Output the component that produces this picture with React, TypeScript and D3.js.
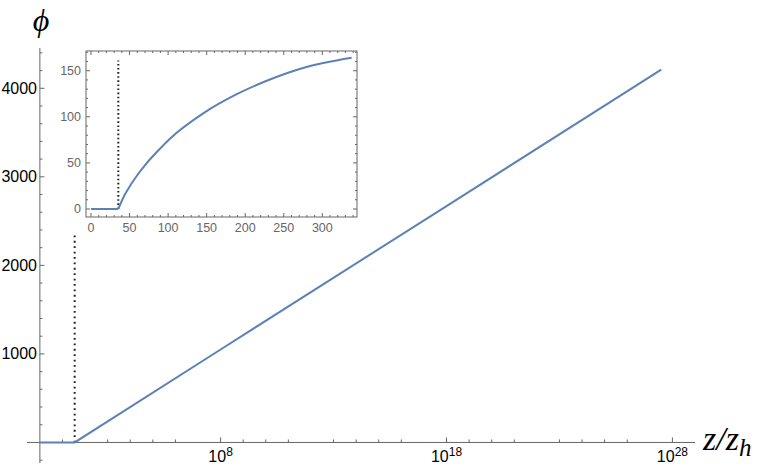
import React from "react";
import * as d3 from "d3";

// Main chart data (z/z_h on log axis, phi)
const mainZ = [1, 34.7, 1e8, 1e18, 3.2e27];
const mainPhi = [0, 0, 1050, 2670, 4210];
const threshZ = 34.7;
const mainDotTop = 2370;

// Inset data
const insetZ = [35.4, 42, 48, 59, 72, 85, 102, 146, 189, 232, 275, 338];
const insetPhi = [0, 12.5, 21.5, 35.5, 49.5, 61.5, 76, 104, 124.5, 140.5, 153, 164];
const insetFlatZ = [0, 35.4];
const insetFlatPhi = [0, 0];
const insetDotTop = 161;

// Ticks
const xMajorExp = [8, 18, 28];
const xMinorExp = [1, 3, 4, 5, 6, 9, 10, 11, 13, 14, 15, 16, 19, 20, 21, 23, 24, 25, 26];
const yMajor = [1000, 2000, 3000, 4000];
const yMinor = [-200, 200, 400, 600, 800, 1200, 1400, 1600, 1800, 2200, 2400, 2600, 2800, 3200, 3400, 3600, 3800, 4200, 4400];
const insetXMajor = [0, 50, 100, 150, 200, 250, 300];
const insetYMajor = [0, 50, 100, 150];

const BLUE = "#5E81B5";
const AXIS = "#666";
const SANS = "'Liberation Sans', Arial, sans-serif";
const SERIF = "'Liberation Serif', 'Times New Roman', serif";

export default function App() {
  const x = d3.scaleLog().domain([Math.pow(10, -0.57), Math.pow(10, 29.0)]).range([27, 695]);
  const y = d3.scaleLinear().domain([-232, 4455]).range([463, 48]);

  const ix = d3.scaleLinear().domain([-6.5, 345]).range([86, 357]);
  const iy = d3.scaleLinear().domain([-8.7, 171.4]).range([217, 51]);

  const mainLine = d3.line<number>().x((_, i) => x(mainZ[i])).y((d) => y(d));
  const insetCurve = d3
    .line<number>()
    .x((_, i) => ix(insetZ[i]))
    .y((d) => iy(d))
    .curve(d3.curveMonotoneX);
  const insetFlat = d3.line<number>().x((_, i) => ix(insetFlatZ[i])).y((d) => iy(d));

  const insetXMinor = d3.range(0, 341, 10).filter((v) => v % 50 !== 0);
  const insetYMinor = d3.range(0, 171, 10).filter((v) => v % 50 !== 0);

  const x0 = x(1);
  const y0 = y(0);

  const left = 86, right = 357, top = 51, bottom = 217;

  return (
    <svg
      width={768}
      height={468}
      style={{ position: "absolute", left: 0, top: 0, background: "#fff", fontFamily: SANS }}
    >
      <rect x={0} y={0} width={768} height={468} fill="#fff" />
      {/* main axes */}
      <line x1={27} x2={695} y1={y0} y2={y0} stroke={AXIS} strokeWidth={1} />
      <line x1={x0} x2={x0} y1={48} y2={463} stroke={AXIS} strokeWidth={1} />
      {xMajorExp.map((e) => (
        <line key={"xM" + e} x1={x(Math.pow(10, e))} x2={x(Math.pow(10, e))} y1={y0} y2={y0 - 5} stroke={AXIS} />
      ))}
      {xMinorExp.map((e) => (
        <line key={"xm" + e} x1={x(Math.pow(10, e))} x2={x(Math.pow(10, e))} y1={y0} y2={y0 - 3} stroke={AXIS} />
      ))}
      {xMajorExp.map((e) => (
        <text key={"xl" + e} x={x(Math.pow(10, e))} y={462} textAnchor="middle" style={{ fontFamily: SANS, fontSize: 16 }} fill="#000">
          10<tspan style={{ fontSize: 12 }} dy={-6.5}>{e}</tspan>
        </text>
      ))}
      {yMajor.map((v) => (
        <line key={"yM" + v} x1={x0} x2={x0 + 4.5} y1={y(v)} y2={y(v)} stroke={AXIS} />
      ))}
      {yMinor.map((v) => (
        <line key={"ym" + v} x1={x0} x2={x0 + 2.5} y1={y(v)} y2={y(v)} stroke={AXIS} />
      ))}
      {yMajor.map((v) => (
        <text key={"yl" + v} x={37} y={y(v) + 5.5} textAnchor="end" style={{ fontFamily: SANS, fontSize: 16 }} fill="#000">
          {v}
        </text>
      ))}

      {/* main dotted threshold */}
      <line
        x1={x(threshZ)}
        x2={x(threshZ)}
        y1={y(0)}
        y2={y(mainDotTop)}
        stroke="#222"
        strokeWidth={2}
        strokeDasharray="1.8,3.6"
      />
      {/* main curve */}
      <path d={mainLine(mainPhi) || ""} fill="none" stroke={BLUE} strokeWidth={2} />

      {/* axis labels */}
      <text x={41} y={31} textAnchor="middle" style={{ fontFamily: SERIF, fontSize: 32, fontStyle: "italic" }}>
        ϕ
      </text>
      <text x={703} y={450} style={{ fontFamily: SERIF, fontSize: 34, fontStyle: "italic" }}>
        z/z<tspan style={{ fontSize: 25 }} dy={6}>h</tspan>
      </text>

      {/* inset */}
      <rect x={50} y={44} width={312} height={190} fill="#fff" />
      <line
        x1={ix(35.4)}
        x2={ix(35.4)}
        y1={iy(0)}
        y2={iy(insetDotTop)}
        stroke="#222"
        strokeWidth={2}
        strokeDasharray="1.6,2.5"
      />
      <path d={insetFlat(insetFlatPhi) || ""} fill="none" stroke={BLUE} strokeWidth={2} />
      <path d={insetCurve(insetPhi) || ""} fill="none" stroke={BLUE} strokeWidth={2} />
      <rect x={left} y={top} width={right - left} height={bottom - top} fill="none" stroke={AXIS} strokeWidth={1} />
      {insetXMajor.map((v) => (
        <g key={"ixM" + v}>
          <line x1={ix(v)} x2={ix(v)} y1={bottom} y2={bottom - 4} stroke={AXIS} />
          <line x1={ix(v)} x2={ix(v)} y1={top} y2={top + 4} stroke={AXIS} />
          <text x={ix(v)} y={bottom + 15} textAnchor="middle" style={{ fontFamily: SANS, fontSize: 12.5 }} fill="#666">
            {v}
          </text>
        </g>
      ))}
      {insetXMinor.map((v) => (
        <g key={"ixm" + v}>
          <line x1={ix(v)} x2={ix(v)} y1={bottom} y2={bottom - 2} stroke={AXIS} />
          <line x1={ix(v)} x2={ix(v)} y1={top} y2={top + 2} stroke={AXIS} />
        </g>
      ))}
      {insetYMajor.map((v) => (
        <g key={"iyM" + v}>
          <line x1={left} x2={left + 4} y1={iy(v)} y2={iy(v)} stroke={AXIS} />
          <line x1={right} x2={right - 4} y1={iy(v)} y2={iy(v)} stroke={AXIS} />
          <text x={81} y={iy(v) + 4.5} textAnchor="end" style={{ fontFamily: SANS, fontSize: 12.5 }} fill="#666">
            {v}
          </text>
        </g>
      ))}
      {insetYMinor.map((v) => (
        <g key={"iym" + v}>
          <line x1={left} x2={left + 2} y1={iy(v)} y2={iy(v)} stroke={AXIS} />
          <line x1={right} x2={right - 2} y1={iy(v)} y2={iy(v)} stroke={AXIS} />
        </g>
      ))}
    </svg>
  );
}
